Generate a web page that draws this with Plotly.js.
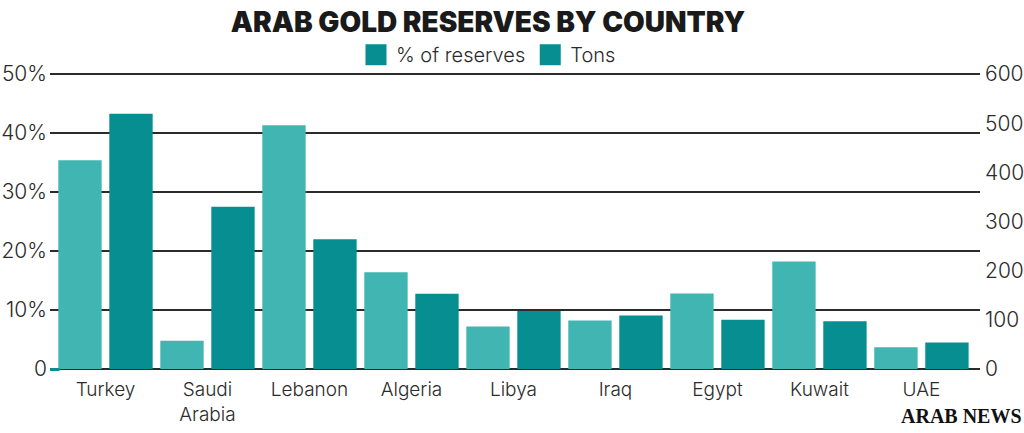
<!DOCTYPE html>
<html>
<head>
<meta charset="utf-8">
<script src="https://cdn.plot.ly/plotly-3.0.1.min.js"></script>
<style>
  html, body { margin: 0; padding: 0; background: #fff; }
  #chart { width: 1024px; height: 433px; }
</style>
</head>
<body>
<div id="chart"></div>
<script>
// values
const countries = ['Turkey', 'Saudi<br>Arabia', 'Lebanon', 'Algeria', 'Libya', 'Iraq', 'Egypt', 'Kuwait', 'UAE'];
const pctReserves = [35.4, 4.8, 41.3, 16.4, 7.2, 8.2, 12.8, 18.2, 3.7];
const tons = [519, 330, 264, 153, 118, 109, 100, 97, 54];

const pctTicks = [0, 10, 20, 30, 40, 50];
const pctTickText = ['0', '10%', '20%', '30%', '40%', '50%'];
const tonTicks = [0, 100, 200, 300, 400, 500, 600];
const legendNames = ['% of reserves', 'Tons'];

const LIGHT = '#40b5b1';
const DARK = '#068e91';
const INK = '#2b2b2b';
const FONT = 'Inter, sans-serif';

const tickFont = { family: FONT, size: 21, color: INK, weight: 300 };

const traces = [
  {
    type: 'bar', x: countries, y: pctReserves, name: legendNames[0],
    marker: { color: LIGHT }, showlegend: false, hoverinfo: 'none',
    offsetgroup: 'a', yaxis: 'y',
  },
  {
    type: 'bar', x: countries, y: tons, name: legendNames[1],
    marker: { color: DARK }, showlegend: false, hoverinfo: 'none',
    offsetgroup: 'b', yaxis: 'y2',
  },
];

// the original legend shows both swatches in the dark teal, so the legend
// entries come from square markers on a hidden axis pair
legendNames.forEach(function (name) {
  traces.push({
    type: 'scatter', mode: 'markers', x: [0], y: [-1], name: name,
    marker: { symbol: 'square', size: 16, color: DARK, line: { color: DARK, width: 5 } },
    showlegend: true, hoverinfo: 'none',
    xaxis: 'x2', yaxis: 'y3',
  });
});

const layout = {
  width: 1024,
  height: 433,
  margin: { l: 50, r: 44, t: 72, b: 62 },
  paper_bgcolor: '#fff',
  plot_bgcolor: '#fff',
  barmode: 'group',
  bargap: 0,
  bargroupgap: 0.15,
  title: {
    text: 'ARAB GOLD RESERVES BY COUNTRY',
    font: { family: FONT, size: 28, color: '#1a1a1a', weight: 900 },
    xref: 'container', x: 0.4766, xanchor: 'center',
    yref: 'container', y: 0.949, yanchor: 'middle',
  },
  legend: {
    orientation: 'h',
    x: 0.4715, xanchor: 'center',
    y: 1.058, yanchor: 'middle',
    bgcolor: 'rgba(0,0,0,0)',
    font: { family: FONT, size: 20, color: INK, weight: 300 },
    itemwidth: 30,
    traceorder: 'normal',
  },
  xaxis: {
    range: [-0.544, 8.574],
    showgrid: false,
    zeroline: false,
    showline: false,
    ticks: '',
    ticklabelstandoff: 5,
    tickfont: { family: FONT, size: 19, color: INK, weight: 300 },
    fixedrange: true,
  },
  yaxis: {
    range: [-0.34, 50.34],
    tickvals: pctTicks,
    ticktext: pctTickText,
    showgrid: true,
    gridcolor: INK,
    gridwidth: 1.5,
    zeroline: false,
    showline: false,
    ticks: '',
    ticklabelstandoff: 2,
    tickfont: tickFont,
    fixedrange: true,
  },
  yaxis2: {
    range: [-4.08, 604.08],
    overlaying: 'y',
    side: 'right',
    tickvals: tonTicks,
    showgrid: false,
    zeroline: false,
    showline: false,
    ticks: '',
    ticklabelstandoff: 4,
    tickfont: tickFont,
    fixedrange: true,
  },
  xaxis2: { domain: [0, 0.01], anchor: 'y3', visible: false, fixedrange: true },
  yaxis3: { domain: [0, 0.01], anchor: 'x2', visible: false, range: [0, 1], fixedrange: true },
  annotations: [
    {
      text: 'ARAB NEWS',
      xref: 'paper', yref: 'paper',
      x: 1.047, xanchor: 'right',
      y: -0.152, yanchor: 'middle',
      showarrow: false,
      font: { family: 'Liberation Serif, serif', size: 20, color: '#111', weight: 700 },
    },
  ],
};

Plotly.newPlot('chart', traces, layout, { displayModeBar: false, staticPlot: true });
</script>
</body>
</html>
